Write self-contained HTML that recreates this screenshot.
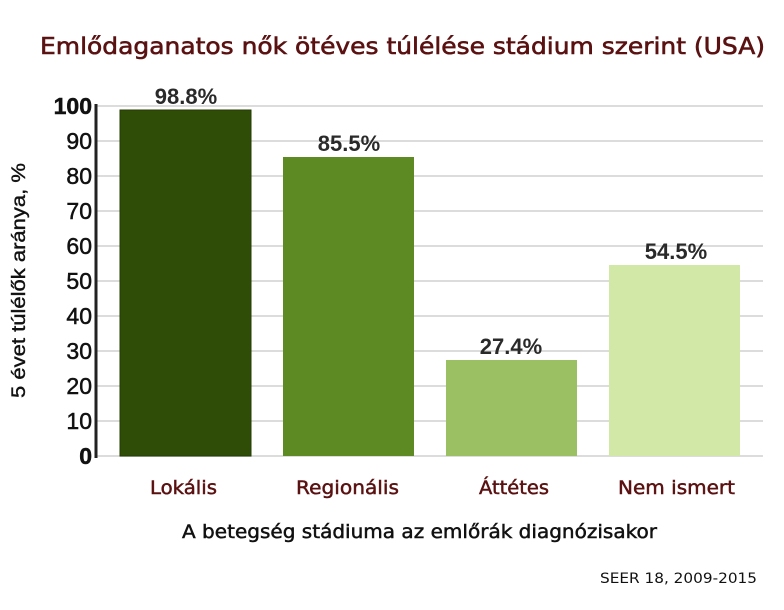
<!DOCTYPE html>
<html><head><meta charset="utf-8"><style>
body{margin:0;background:#fff;}
svg text{font-family:"DejaVu Sans","Liberation Sans",sans-serif;}
svg .ar{font-family:"Liberation Sans",sans-serif;}
</style></head><body>
<svg width="784" height="605" xmlns="http://www.w3.org/2000/svg">
<text x="40" y="54" font-size="23" fill="#5a1111" stroke="#5a1111" stroke-width="0.6" textLength="725" lengthAdjust="spacingAndGlyphs">Emlődaganatos nők ötéves túlélése stádium szerint (USA)</text>
<g stroke="#dcdcdc" stroke-width="2">
<line x1="96" x2="763" y1="106" y2="106"/><line x1="96" x2="763" y1="141" y2="141"/>
<line x1="96" x2="763" y1="176" y2="176"/><line x1="96" x2="763" y1="211" y2="211"/>
<line x1="96" x2="763" y1="246" y2="246"/><line x1="96" x2="763" y1="281" y2="281"/>
<line x1="96" x2="763" y1="316" y2="316"/><line x1="96" x2="763" y1="351" y2="351"/>
<line x1="96" x2="763" y1="386" y2="386"/><line x1="96" x2="763" y1="421" y2="421"/>
<line x1="96" x2="763" y1="456" y2="456"/>
</g>
<rect x="120" y="110" width="131" height="346" fill="#2f4d06" stroke="#243c04"/>
<rect x="283" y="157" width="131" height="299" fill="#5e8a23"/>
<rect x="446" y="360" width="131" height="96" fill="#9bc064"/>
<rect x="609" y="265" width="131" height="191" fill="#d1e8a6"/>
<line x1="96" x2="96" y1="104" y2="458" stroke="#222" stroke-width="3"/>
<g class="ar" font-size="23" fill="#111" stroke="#111" stroke-width="0.5" text-anchor="end">
<text class="ar" x="92" y="114" font-weight="bold">100</text>
<text class="ar" x="92" y="149">90</text><text class="ar" x="92" y="184">80</text><text class="ar" x="92" y="219">70</text>
<text class="ar" x="92" y="254">60</text><text class="ar" x="92" y="289">50</text><text class="ar" x="92" y="324">40</text>
<text class="ar" x="92" y="359">30</text><text class="ar" x="92" y="394">20</text><text class="ar" x="92" y="429">10</text>
<text class="ar" x="92" y="464" font-weight="bold">0</text>
</g>
<g font-size="22" font-weight="bold" fill="#2a2a2a" text-anchor="middle">
<text class="ar" x="186" y="104">98.8%</text>
<text class="ar" x="349" y="151">85.5%</text>
<text class="ar" x="511" y="354">27.4%</text>
<text class="ar" x="676" y="259">54.5%</text>
</g>
<g font-size="19" fill="#5a1111" stroke="#5a1111" stroke-width="0.5">
<text x="150" y="494" textLength="67" lengthAdjust="spacingAndGlyphs">Lokális</text>
<text x="296" y="494" textLength="103" lengthAdjust="spacingAndGlyphs">Regionális</text>
<text x="479" y="494" textLength="70" lengthAdjust="spacingAndGlyphs">Áttétes</text>
<text x="618" y="494" textLength="117" lengthAdjust="spacingAndGlyphs">Nem ismert</text>
</g>
<text x="182" y="538" font-size="19" fill="#111" stroke="#111" stroke-width="0.5" textLength="475" lengthAdjust="spacingAndGlyphs">A betegség stádiuma az emlőrák diagnózisakor</text>
<text x="600" y="583" font-size="14" fill="#111" textLength="157" lengthAdjust="spacingAndGlyphs">SEER 18, 2009-2015</text>
<text transform="translate(25,398) rotate(-90)" font-size="19" fill="#111" stroke="#111" stroke-width="0.4" class="ar" textLength="235" lengthAdjust="spacingAndGlyphs">5 évet túlélők aránya, %</text>
</svg>
</body></html>
